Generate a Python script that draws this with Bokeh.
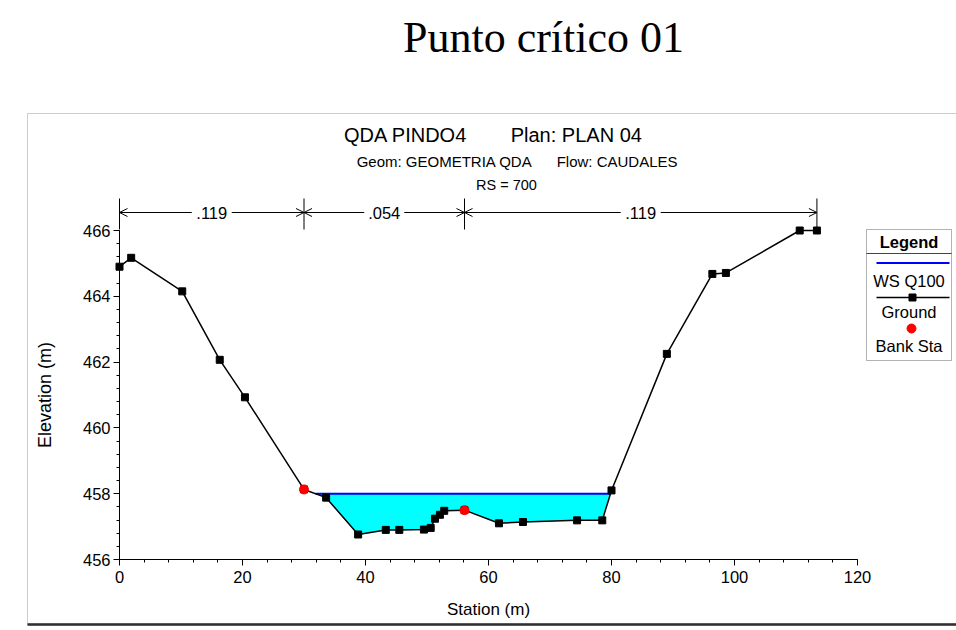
import numpy as np
from bokeh.plotting import figure
from bokeh.models import (Range1d, Label, BoxAnnotation, ColumnDataSource,
                          SingleIntervalTicker, Arrow, OpenHead, LabelSet)
from bokeh.core.properties import value
from bokeh.embed import file_html
from bokeh.resources import INLINE

# ---------------- data ----------------
station = [0.0, 1.9, 10.2, 16.3, 20.4, 30.0, 33.6, 38.8, 43.3, 45.5, 49.5, 50.6,
           51.3, 52.1, 52.8, 56.1, 61.7, 65.6, 74.4, 78.5, 80.0, 89.0, 96.4, 98.6,
           110.6, 113.4]
elevation = [464.90, 465.17, 464.15, 462.07, 460.93, 458.13, 457.88, 456.76, 456.90,
             456.90, 456.91, 456.96, 457.24, 457.36, 457.48, 457.50, 457.10, 457.14,
             457.19, 457.19, 458.10, 462.25, 464.68, 464.71, 466.00, 466.00]
bank_station = [30.0, 56.1]
bank_elevation = [458.13, 457.50]
ws_q100 = 458.0
n_break_station = [0.0, 30.0, 56.1, 113.4]
n_value = [".119", ".054", ".119"]
legend_labels = ["WS Q100", "Ground", "Bank Sta"]
x_axis_bounds = (0, 120)
y_axis_bounds = (456, 466)

main_title = "Punto crítico 01"
NB = "\u00a0"
header_lines = ["QDA PINDO4" + NB * 7 + " Plan: PLAN 04",
                "Geom: GEOMETRIA QDA" + NB * 5 + " Flow: CAUDALES",
                "RS = 700"]

# ---------------- page geometry (pixels) ----------------
W, H = 956, 630
X0_PX, X120_PX = 119, 857
Y466_PX, Y456_PX = 230, 559
XS = (X120_PX - X0_PX) / 120.0
YS = (Y456_PX - Y466_PX) / 10.0


def dx(px):
    return (px - X0_PX) / XS


def dy(py):
    return 466 - (py - Y466_PX) / YS


FONT = "Liberation Sans"

p = figure(width=W, height=H, output_backend="svg", toolbar_location=None,
           x_range=Range1d(dx(0), dx(W)), y_range=Range1d(dy(H), dy(0)),
           min_border_left=0, min_border_right=0, min_border_top=0, min_border_bottom=0,
           background_fill_color="white", border_fill_color="white")
p.outline_line_color = None
p.xgrid.visible = False
p.ygrid.visible = False

# ---------------- axes ----------------
xa = p.xaxis[0]
xa.ticker = SingleIntervalTicker(interval=20, num_minor_ticks=5)
xa.bounds = x_axis_bounds
xa.fixed_location = y_axis_bounds[0]
xa.axis_label = "Station (m)"
ya = p.yaxis[0]
ya.ticker = SingleIntervalTicker(interval=2, num_minor_ticks=5)
ya.bounds = y_axis_bounds
ya.fixed_location = x_axis_bounds[0]
ya.axis_label = "Elevation (m)"
for ax in (xa, ya):
    ax.axis_line_color = "black"
    ax.axis_line_width = 1
    ax.major_tick_line_color = "black"
    ax.minor_tick_line_color = "black"
    ax.major_tick_in = 0
    ax.major_tick_out = 6
    ax.minor_tick_in = 0
    ax.minor_tick_out = 3
    ax.major_label_text_font = FONT
    ax.major_label_text_font_size = "16.5px"
    ax.major_label_text_color = "black"
    ax.axis_label_text_font = FONT
    ax.axis_label_text_font_style = "normal"
    ax.axis_label_text_color = "black"
xa.axis_label_text_font_size = "17px"
ya.axis_label_text_font_size = "18px"
xa.major_label_standoff = 5
xa.axis_label_standoff = 14
ya.major_label_standoff = 3
ya.axis_label_standoff = 25

# ---------------- water surface ----------------
gx = np.array(station)
gy = np.array(elevation)
below = gy < ws_q100
i_l = int(np.argmax(below))
i_r = len(below) - 1 - int(np.argmax(below[::-1]))
xl = gx[i_l - 1] + (ws_q100 - gy[i_l - 1]) * (gx[i_l] - gx[i_l - 1]) / (gy[i_l] - gy[i_l - 1])
xr = gx[i_r] + (ws_q100 - gy[i_r]) * (gx[i_r + 1] - gx[i_r]) / (gy[i_r + 1] - gy[i_r])
wx = [xl] + list(gx[i_l:i_r + 1]) + [xr]
wy = [ws_q100] + list(gy[i_l:i_r + 1]) + [ws_q100]
p.patch(wx, wy, fill_color="#00FFFF", line_color=None)
p.line([xl, xr], [ws_q100, ws_q100], line_color="#0000FF", line_width=2)

# ---------------- ground ----------------
p.line(station, elevation, line_color="black", line_width=1.5)
p.scatter(station, elevation, marker="square", size=7, fill_color="black", line_color="black")
p.scatter(bank_station, bank_elevation, marker="circle", size=9, fill_color="#FF0000",
          line_color="#FF0000")

# ---------------- Manning's n markers ----------------
mid = [(a + b) / 2 for a, b in zip(n_break_station[:-1], n_break_station[1:])]
gap = 20 / XS
arrow_y = dy(212)
arrow_src = ColumnDataSource(dict(
    x0=[m - gap for m in mid] + [m + gap for m in mid],
    x1=n_break_station[:-1] + n_break_station[1:],
    y=[arrow_y] * (2 * len(mid))))
p.add_layout(Arrow(end=OpenHead(size=8, line_width=1, line_color="black"), start=None,
                   x_start="x0", y_start="y", x_end="x1", y_end="y",
                   source=arrow_src, line_width=1, line_color="black"))
p.segment(x0=n_break_station, y0=[dy(198)] * len(n_break_station),
          x1=n_break_station, y1=[dy(229)] * len(n_break_station),
          line_color="black", line_width=1)
p.add_layout(LabelSet(x="x", y="y", text="t",
                      source=ColumnDataSource(dict(x=mid, y=[arrow_y] * len(mid), t=n_value)),
                      text_align="center", text_baseline="middle",
                      text_font=value(FONT), text_font_size=value("16.5px"),
                      text_color="black"))

# ---------------- legend ----------------
LG_L, LG_R = 866, 951
LG_C = (LG_L + LG_R) / 2
p.add_layout(BoxAnnotation(left=dx(LG_L), right=dx(LG_R), top=dy(229), bottom=dy(360),
                           fill_color=None, line_color="black", line_width=1))
p.segment(x0=[dx(LG_L)], y0=[dy(253)], x1=[dx(LG_R)], y1=[dy(253)],
          line_color="#444444", line_width=1)
p.add_layout(Label(x=dx(LG_C), y=dy(241), text="Legend", text_align="center",
                   text_baseline="middle", text_font=FONT, text_font_size="16.5px",
                   text_font_style="bold", text_color="black"))
p.segment(x0=[dx(876)], y0=[dy(262.5)], x1=[dx(949)], y1=[dy(262.5)],
          line_color="#0000FF", line_width=2)
p.segment(x0=[dx(876)], y0=[dy(297)], x1=[dx(949)], y1=[dy(297)],
          line_color="black", line_width=1.5)
p.scatter([dx(912)], [dy(297)], marker="square", size=7, fill_color="black",
          line_color="black")
p.scatter([dx(911)], [dy(328)], marker="circle", size=9, fill_color="#FF0000",
          line_color="#FF0000")
for txt, yy in zip(legend_labels, [280, 311, 345]):
    p.add_layout(Label(x=dx(LG_C), y=dy(yy), text=txt, text_align="center",
                       text_baseline="middle", text_font=FONT, text_font_size="16.5px",
                       text_color="black"))

# ---------------- outer frame ----------------
p.add_layout(BoxAnnotation(left=dx(27), right=dx(W + 50), top=dy(113), bottom=dy(624),
                           fill_color=None, line_color="#555555", line_width=1))
p.segment(x0=[dx(27)], y0=[dy(624)], x1=[dx(W + 50)], y1=[dy(624)],
          line_color="#222222", line_width=2.5)

# ---------------- titles ----------------
p.add_layout(Label(x=dx(543), y=dy(37), text=main_title, text_align="center",
                   text_baseline="middle", text_font="Liberation Serif",
                   text_font_size="44px", text_color="black"))
for txt, cx, cy, fs in zip(header_lines, [493, 517, 506], [134, 161, 184],
                           ["20px", "15px", "14.5px"]):
    p.add_layout(Label(x=dx(cx), y=dy(cy), text=txt, text_align="center",
                       text_baseline="middle", text_font=FONT, text_font_size=fs,
                       text_color="black"))

open("out.html", "w").write(file_html(p, INLINE))
